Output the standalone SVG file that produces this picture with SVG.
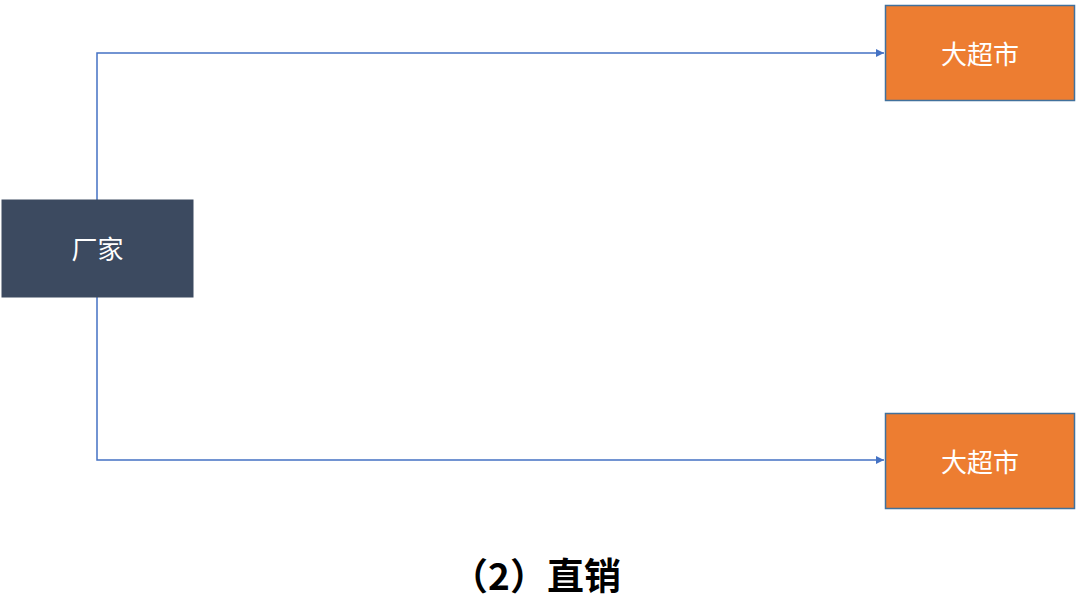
<svg xmlns="http://www.w3.org/2000/svg" width="1080" height="601" viewBox="0 0 1080 601">
<defs>
<style>
.lbl{font-family:"Noto Sans CJK SC","Liberation Sans",sans-serif;font-size:26px;fill:#ffffff;text-anchor:middle;dominant-baseline:central}
.conn{fill:none;stroke:#4472C4;stroke-width:1.5}
.shop{fill:#ED7D31;stroke:#41719C;stroke-width:1.5}
</style>
<marker id="arr" viewBox="0 0 10 10" refX="10" refY="5" markerWidth="9" markerHeight="8" markerUnits="userSpaceOnUse" orient="auto">
<path d="M0,0 L10,5 L0,10 z" fill="#4472C4"/>
</marker>
</defs>
<rect width="1080" height="601" fill="#ffffff"/>
<g id="connectors">
<polyline class="conn" points="97,200 97,53 884,53" marker-end="url(#arr)"/>
<polyline class="conn" points="97,297 97,460 884,460" marker-end="url(#arr)"/>
</g>
<g id="factory">
<rect x="2" y="200" width="191" height="97" fill="#3C4A60" stroke="#3C4A60" stroke-width="1"/>
<text class="lbl" x="97.5" y="247">厂家</text>
</g>
<g id="supermarket1">
<rect class="shop" x="885.5" y="5.5" width="189" height="95"/>
<text class="lbl" x="980" y="52">大超市</text>
</g>
<g id="supermarket2">
<rect class="shop" x="885.5" y="413.5" width="189" height="95"/>
<text class="lbl" x="980" y="460">大超市</text>
</g>
<text x="536" y="574" font-family="Noto Sans CJK SC,Liberation Sans,sans-serif" font-size="37" font-weight="bold" fill="#000000" text-anchor="middle" dominant-baseline="central">（2）直销</text>
</svg>
